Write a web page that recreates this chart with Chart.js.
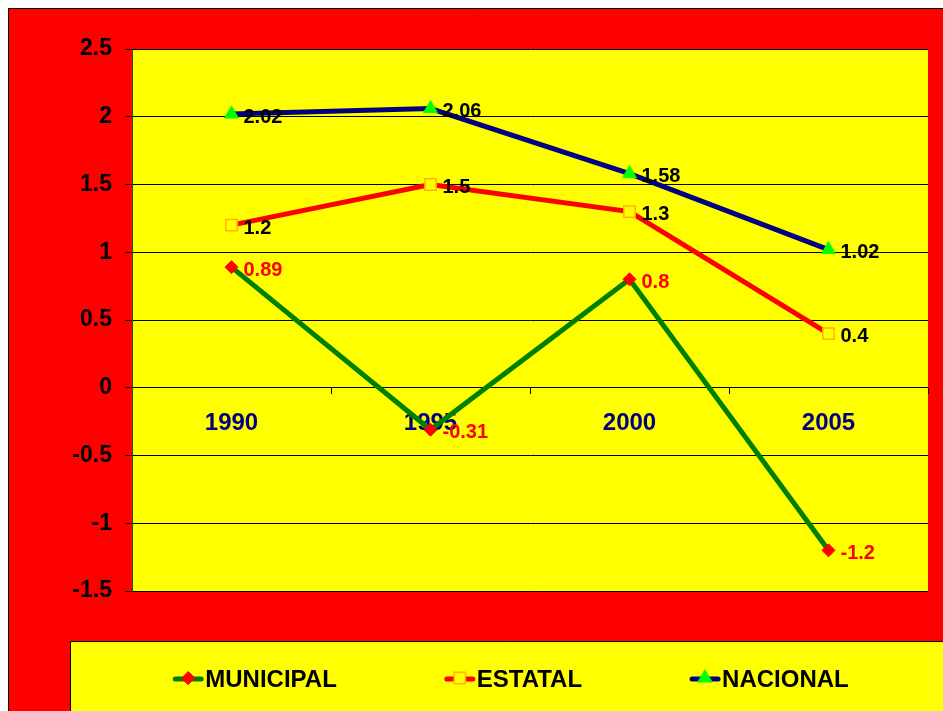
<!DOCTYPE html>
<html><head><meta charset="utf-8">
<style>html,body{margin:0;padding:0;background:#fff;overflow:hidden}</style>
<script src="https://cdn.jsdelivr.net/npm/chart.js@4"></script>
</head><body>
<canvas id="c" width="943" height="711"></canvas>
<script>
const categories = ['1990', '1995', '2000', '2005'];
const municipal = [0.89, -0.31, 0.8, -1.2];
const estatal = [1.2, 1.5, 1.3, 0.4];
const nacional = [2.02, 2.06, 1.58, 1.02];
const seriesNames = ['MUNICIPAL', 'ESTATAL', 'NACIONAL'];
const yTickValues = [2.5, 2, 1.5, 1, 0.5, 0, -0.5, -1, -1.5];

const FONT = 'Liberation Sans, Arial, sans-serif';

const datasets = [
  { label: seriesNames[0], data: municipal, borderColor: '#008000', backgroundColor: '#FF0000',
    pointStyle: 'rectRot', pointRadius: 6.5, pointBorderColor: '#FF0000', pointBackgroundColor: '#FF0000', pointBorderWidth: 1,
    labelColor: '#FF0000' },
  { label: seriesNames[1], data: estatal, borderColor: '#FF0000', backgroundColor: '#FFFF00',
    pointStyle: 'rect', pointRadius: 8, pointBorderColor: '#FFB300', pointBackgroundColor: '#FFFF00', pointBorderWidth: 1.5,
    labelColor: '#000000' },
  { label: seriesNames[2], data: nacional, borderColor: '#000080', backgroundColor: '#00FF00',
    pointStyle: 'triangle', pointRadius: 8, pointBorderColor: '#00FF00', pointBackgroundColor: '#00FF00', pointBorderWidth: 1,
    labelColor: '#000000' }
].map(d => Object.assign({ borderWidth: 5, tension: 0, fill: false }, d));

const bgPlugin = {
  id: 'bg',
  beforeDraw(chart) {
    const ctx = chart.ctx, a = chart.chartArea;
    ctx.save();
    ctx.fillStyle = '#FFFFFF';
    ctx.fillRect(0, 0, chart.width, chart.height);
    ctx.fillStyle = '#FF0000';
    ctx.fillRect(8, 8, chart.width - 8, chart.height - 8);
    ctx.strokeStyle = '#000';
    ctx.lineWidth = 1;
    ctx.beginPath();
    ctx.moveTo(8.5, chart.height); ctx.lineTo(8.5, 8.5); ctx.lineTo(chart.width, 8.5);
    ctx.stroke();
    ctx.fillStyle = '#FFFF00';
    ctx.fillRect(a.left, a.top, a.right - a.left, a.bottom - a.top);
    // legend box
    ctx.fillRect(70, 641, chart.width - 70, chart.height - 641);
    ctx.beginPath();
    ctx.moveTo(70.5, chart.height); ctx.lineTo(70.5, 641.5); ctx.lineTo(chart.width, 641.5);
    ctx.stroke();
    ctx.restore();
  }
};

function drawMarker(ctx, style, x, y, r, fill, stroke, bw) {
  ctx.save();
  ctx.fillStyle = fill; ctx.strokeStyle = stroke; ctx.lineWidth = bw;
  ctx.beginPath();
  if (style === 'rectRot') {
    ctx.moveTo(x - r, y); ctx.lineTo(x, y - r); ctx.lineTo(x + r, y); ctx.lineTo(x, y + r); ctx.closePath();
  } else if (style === 'rect') {
    const s = r * Math.SQRT1_2;
    ctx.rect(x - s, y - s, 2 * s, 2 * s);
  } else {
    ctx.moveTo(x, y - r);
    ctx.lineTo(x + Math.sin(2 * Math.PI / 3) * r, y - Math.cos(2 * Math.PI / 3) * r);
    ctx.lineTo(x + Math.sin(4 * Math.PI / 3) * r, y - Math.cos(4 * Math.PI / 3) * r);
    ctx.closePath();
  }
  ctx.fill(); ctx.stroke();
  ctx.restore();
}

const labelPlugin = {
  id: 'vals',
  afterDatasetsDraw(chart) {
    const ctx = chart.ctx;
    ctx.save();
    ctx.font = 'bold 20px ' + FONT;
    ctx.textBaseline = 'middle';
    ctx.textAlign = 'left';
    chart.data.datasets.forEach((ds, i) => {
      const meta = chart.getDatasetMeta(i);
      meta.data.forEach((pt, j) => {
        ctx.fillStyle = ds.labelColor;
        ctx.fillText(String(ds.data[j]), pt.x + 12, pt.y + 3);
      });
    });
    ctx.restore();
  },
  afterDraw(chart) {
    const ctx = chart.ctx;
    ctx.save();
    ctx.font = 'bold 24px ' + FONT;
    ctx.textBaseline = 'middle';
    ctx.textAlign = 'left';
    const sym = 30, gap = 2, between = 108;
    const items = chart.data.datasets.map(ds => ({ ds, tw: ctx.measureText(ds.label).width }));
    const total = items.reduce((s, it) => s + sym + gap + it.tw, 0) + between * (items.length - 1);
    let x = 511 - total / 2;
    const y = 679;
    items.forEach(it => {
      const ds = it.ds;
      ctx.strokeStyle = ds.borderColor;
      ctx.lineWidth = 5;
      ctx.lineCap = 'round';
      ctx.beginPath(); ctx.moveTo(x + 2, y); ctx.lineTo(x + sym - 2, y); ctx.stroke();
      drawMarker(ctx, ds.pointStyle, x + sym / 2, y - 1, ds.pointRadius, ds.pointBackgroundColor, ds.pointBorderColor, ds.pointBorderWidth);
      ctx.fillStyle = '#000';
      ctx.fillText(ds.label, x + sym + gap, y + 1);
      x += sym + gap + it.tw + between;
    });
    ctx.restore();
  }
};

new Chart(document.getElementById('c'), {
  type: 'line',
  data: { labels: categories, datasets },
  options: {
    responsive: false,
    animation: false,
    devicePixelRatio: 1,
    layout: { padding: { left: 0, top: 49, right: 15, bottom: 120 } },
    plugins: { legend: { display: false }, tooltip: { enabled: false } },
    scales: {
      x: {
        type: 'category', offset: true, position: { y: 0 }, z: 1,
        grid: { offset: true, drawOnChartArea: false, drawTicks: true, tickLength: 6, color: '#000', lineWidth: 1 },
        border: { display: false },
        ticks: { color: '#000080', font: { family: FONT, size: 24, weight: 'bold' }, padding: 15, maxRotation: 0, autoSkip: false }
      },
      y: {
        min: -1.5, max: 2.5,
        afterFit(s) { s.width = 132; },
        afterBuildTicks(s) { s.ticks = yTickValues.map(v => ({ value: v })); },
        grid: { color: '#000', lineWidth: 1, tickLength: 7, drawTicks: true },
        border: { color: '#404000', width: 1 },
        ticks: { color: '#000', font: { family: FONT, size: 23, weight: 'bold' }, padding: 13, callback: v => String(v) }
      }
    }
  },
  plugins: [bgPlugin, labelPlugin]
});
</script>
</body></html>
